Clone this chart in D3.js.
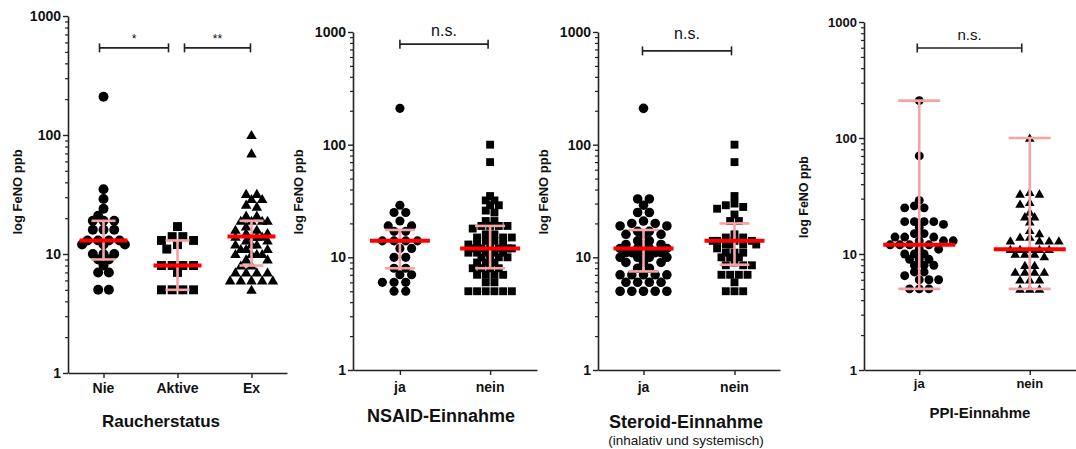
<!DOCTYPE html>
<html>
<head>
<meta charset="utf-8">
<script src="https://cdn.jsdelivr.net/npm/d3@7"></script>
<style>
  body { margin: 0; background: #fff; }
  svg text { font-family: "Liberation Sans", Arial, sans-serif; fill: #111; }
</style>
</head>
<body>
<svg id="chart" width="1076" height="449"></svg>
<script>
// ---- data (FeNO ppb) ----
const raucherCats = ["Nie", "Aktive", "Ex"];
const raucherNie = [210, 35, 29, 24, 21, 19, 19, 19, 16, 16, 16, 13, 13, 13, 13, 12, 12, 12, 10, 10, 10, 9, 9, 8, 7, 7, 5, 5];
const raucherAktive = [17, 14, 14, 13, 13, 12, 11, 8, 8, 8, 8, 7, 5, 5, 5, 5];
const raucherEx = [100, 70, 32, 32, 29, 29, 26, 25, 21, 21, 19, 19, 19, 19, 17, 16, 16, 15, 15, 14, 14, 14, 14, 13, 13,
  12, 12, 12, 11, 11, 11, 10, 10, 10, 10, 9, 9, 8, 8, 7, 7, 7, 7, 6, 6, 6, 6, 6, 5];
const raucherMedian = [13, 8, 14];
const raucherLow = [9, 5, 8];
const raucherHigh = [19, 13, 19];

const jaNein = ["ja", "nein"];
const nsaidJa = [210, 29, 25, 25, 21, 19, 19, 17, 17, 14, 14, 14, 14, 12, 12, 10, 10, 8, 8, 7, 7, 6, 6, 6, 5, 5];
const nsaidNein = [100, 70, 35, 32, 32, 29, 29, 26, 25, 21, 21, 19, 19, 19, 19, 18, 16, 16, 15, 15, 15, 14, 14, 13, 13, 13,
  12, 12, 12, 12, 12, 12, 11, 11, 11, 11, 11, 10, 10, 10, 10, 9, 9, 9, 8, 8, 8, 8, 7, 7, 7, 7, 6, 6, 5, 5, 5, 5, 5, 5];
const nsaidMedian = [14, 12];
const nsaidLow = [8, 8];
const nsaidHigh = [17.5, 19];

const steroidJa = [210, 33, 33, 29, 25, 25, 21, 20, 20, 19, 19, 17, 17, 16, 16, 16, 14, 14, 13, 13, 13, 12, 12, 12, 12,
  11, 11, 11, 11, 11, 10, 10, 10, 10, 9, 9, 9, 8, 8, 7, 7, 7, 7, 7, 6, 6, 6, 6, 5, 5, 5, 5, 5];
const steroidNein = [100, 70, 35, 30, 29, 28, 27, 24, 21, 21, 16, 15, 15, 14, 14, 14, 14, 13, 13, 13, 13, 12, 11, 11, 11,
  10, 10, 10, 9, 8.5, 8.5, 8.5, 7, 7, 7, 7, 6, 5, 5, 5];
const steroidMedian = [12, 14];
const steroidLow = [7.5, 8.6];
const steroidHigh = [17.5, 20];

const ppiJa = [210, 70, 29, 26, 25, 25, 19, 19, 19, 19, 18, 17, 15, 15, 14, 14, 14, 13, 13, 13, 12, 12, 12, 12, 11, 11,
  10, 10, 10, 9, 9, 9, 8, 8, 8, 7, 7, 6.5, 6, 6, 6, 5, 5, 5];
const ppiNein = [100, 34, 33, 33, 28, 27, 23, 21, 21, 19, 16, 15, 14, 14, 13, 13, 13, 13, 11, 11, 11, 11, 11, 10, 10, 10,
  9.5, 8, 8, 7, 7, 7, 7, 6, 6, 6, 5, 5, 5];
const ppiMedian = [12, 11];

const yTicks = [1, 10, 100, 1000];

// ---- panel layout ----
const panels = [
  { cats: raucherCats, groups: [raucherNie, raucherAktive, raucherEx], shapes: ["circle", "square", "triangle"],
    median: raucherMedian, low: raucherLow, high: raucherHigh,
    x0: 68, x1: 287, pad: 0.48, top: 16, bottom: 373, step: [10.7, 10.7, 10.7], spread: [22, 18, 20], msize: [78, 80, 48],
    medHalf: 24, capHalf: 12, tickFont: 14, labelX: 22, labelY: 192, labelFont: 13,
    title: "Raucherstatus", titleX: 161, titleY: 427, titleFont: 17, catY: 393,
    sig: [{ a: 0, b: 1, da: -4, db: -9, v: 540, text: "*", font: 12, ty: 43 },
          { a: 1, b: 2, da: 7, db: -1, v: 540, text: "**", font: 12, ty: 43 }] },
  { cats: jaNein, groups: [nsaidJa, nsaidNein], shapes: ["circle", "square"],
    median: nsaidMedian, low: nsaidLow, high: nsaidHigh,
    x0: 353, x1: 537, pad: 0.52, top: 32, bottom: 370, step: [11.7, 8.7], spread: [24, 26], msize: [66, 62],
    medHalf: 30, capHalf: 15, tickFont: 14, labelX: 303, labelY: 192, labelFont: 13,
    title: "NSAID-Einnahme", titleX: 441, titleY: 422, titleFont: 18, catY: 392,
    sig: [{ a: 0, b: 1, da: 0, db: -2, v: 780, text: "n.s.", font: 16, ty: 36 }] },
  { cats: jaNein, groups: [steroidJa, steroidNein], shapes: ["circle", "square"],
    median: steroidMedian, low: steroidLow, high: steroidHigh,
    x0: 598, x1: 780, pad: 0.5, top: 32, bottom: 370, step: [11.7, 8.7], spread: [24, 26], msize: [72, 62],
    medHalf: 30, capHalf: 15, tickFont: 14, labelX: 548, labelY: 192, labelFont: 13,
    title: "Steroid-Einnahme", sub: "(inhalativ und systemisch)", titleX: 686, titleY: 428, titleFont: 18, catY: 392,
    sig: [{ a: 0, b: 1, da: -1, db: -3, v: 680, text: "n.s.", font: 16, ty: 39 }] },
  { cats: jaNein, groups: [ppiJa, ppiNein], shapes: ["circle", "triangle"],
    median: ppiMedian, low: null, high: null,
    x0: 864, x1: 1085, pad: 0.5, top: 22, bottom: 370, step: [9.7, 9.7], spread: [34, 30], msize: [62, 40],
    medHalf: 36, capHalf: 21, tickFont: 13, labelX: 808, labelY: 197, labelFont: 12.5,
    title: "PPI-Einnahme", titleX: 980, titleY: 418, titleFont: 15, catY: 388,
    sig: [{ a: 0, b: 1, da: -2, db: -8, v: 597, text: "n.s.", font: 15, ty: 40 }] }
];

const svg = d3.select("#chart");
const symbolType = { circle: d3.symbolCircle, square: d3.symbolSquare, triangle: d3.symbolTriangle };

// scatter-dot layout: equal values in a centred row, otherwise dodge in half steps
// (never wider than maxHalf; when crowded take the least overlapping slot)
function swarm(values, y, W, maxHalf) {
  const T = W * 0.68, placed = [];
  const gap = (ox, oy) => d3.min(placed, p => Math.hypot(p.dx - ox, p.dy - oy)) ?? Infinity;
  let flip = 1;
  const byVal = d3.groups(values.slice().sort((a, b) => b - a), d => d);
  for (const [v, arr] of byVal) {
    const yy = y(v), n = arr.length;
    const row = d3.range(n).map(i => (i - (n - 1) / 2) * W);
    if (row.every(o => gap(o, yy) >= T)) {
      row.forEach(o => placed.push({ v, dx: o, dy: yy }));
      continue;
    }
    arr.forEach(() => {
      const cands = [0];
      for (let k = 1; k * W / 2 <= maxHalf; k++) cands.push(-k * W / 2 * flip, k * W / 2 * flip);
      let best = cands.find(o => gap(o, yy) >= T);
      if (best === undefined) best = cands[d3.maxIndex(cands, o => gap(o, yy))];
      placed.push({ v, dx: best, dy: yy });
      flip = -flip;
    });
  }
  return placed;
}

panels.forEach(p => {
  const g = svg.append("g");
  const y = d3.scaleLog().domain([1, 1000]).range([p.bottom, p.top]);
  const x = d3.scalePoint().domain(p.cats).range([p.x0, p.x1]).padding(p.pad);

  // minor log ticks
  const minor = [];
  [1, 10, 100].forEach(d => d3.range(2, 10).forEach(k => minor.push(d * k)));
  g.append("g")
    .attr("transform", `translate(${p.x0},0)`)
    .call(d3.axisLeft(y).tickValues(minor).tickSize(3).tickFormat(""))
    .call(a => a.select(".domain").remove())
    .call(a => a.selectAll("line").attr("stroke", "#222").attr("stroke-width", 1.2));

  g.append("g")
    .attr("transform", `translate(${p.x0},0)`)
    .call(d3.axisLeft(y).tickValues(yTicks).tickFormat(d3.format("d")).tickSize(5).tickSizeOuter(0).tickPadding(2))
    .call(a => a.select(".domain").attr("stroke", "#222").attr("stroke-width", 1.6))
    .call(a => a.selectAll("line").attr("stroke", "#222").attr("stroke-width", 1.4))
    .call(a => a.selectAll("text").attr("font-size", p.tickFont).attr("font-weight", "bold").attr("fill", "#111"));

  g.append("g")
    .attr("transform", `translate(0,${p.bottom})`)
    .call(d3.axisBottom(x).tickSize(5).tickSizeOuter(0).tickFormat(""))
    .call(a => a.select(".domain").attr("stroke", "#222").attr("stroke-width", 1.6))
    .call(a => a.selectAll("line").attr("stroke", "#222").attr("stroke-width", 1.4));

  g.selectAll(".cat").data(p.cats).join("text")
    .attr("x", d => x(d)).attr("y", p.catY)
    .attr("text-anchor", "middle").attr("font-size", p.tickFont).attr("font-weight", "bold")
    .text(d => d);

  // axis label + title
  g.append("text")
    .attr("transform", `translate(${p.labelX},${p.labelY}) rotate(-90)`)
    .attr("text-anchor", "middle").attr("font-size", p.labelFont).attr("font-weight", "bold")
    .text("log FeNO ppb");
  g.append("text")
    .attr("x", p.titleX).attr("y", p.titleY)
    .attr("text-anchor", "middle").attr("font-size", p.titleFont).attr("font-weight", "bold")
    .text(p.title);
  if (p.sub) {
    g.append("text")
      .attr("x", p.titleX).attr("y", p.titleY + 17)
      .attr("text-anchor", "middle").attr("font-size", 13.5)
      .text(p.sub);
  }

  // points
  p.groups.forEach((vals, i) => {
    const pts = swarm(vals, y, p.step[i], p.spread[i]);
    const sym = d3.symbol().type(symbolType[p.shapes[i]]).size(p.msize[i]);
    g.append("g").selectAll("path").data(pts).join("path")
      .attr("transform", d => `translate(${x(p.cats[i]) + d.dx},${d.dy + (p.shapes[i] === "triangle" ? 1 : 0)})`)
      .attr("d", sym)
      .attr("fill", "#000");
  });

  // error bars (IQR, or full range when not given) + median
  p.cats.forEach((c, i) => {
    const lo = p.low ? p.low[i] : d3.min(p.groups[i]);
    const hi = p.high ? p.high[i] : d3.max(p.groups[i]);
    const cx = x(c);
    const eb = g.append("g").attr("stroke", "#f5a3a3").attr("stroke-width", 2.6);
    eb.append("line").attr("x1", cx).attr("x2", cx).attr("y1", y(lo)).attr("y2", y(hi));
    eb.append("line").attr("x1", cx - p.capHalf).attr("x2", cx + p.capHalf).attr("y1", y(lo)).attr("y2", y(lo));
    eb.append("line").attr("x1", cx - p.capHalf).attr("x2", cx + p.capHalf).attr("y1", y(hi)).attr("y2", y(hi));
    g.append("line")
      .attr("x1", cx - p.medHalf).attr("x2", cx + p.medHalf)
      .attr("y1", y(p.median[i])).attr("y2", y(p.median[i]))
      .attr("stroke", "#ff0000").attr("stroke-width", 4);
  });

  // significance brackets
  p.sig.forEach(s => {
    const xa = x(p.cats[s.a]) + s.da, xb = x(p.cats[s.b]) + s.db, yy = y(s.v);
    const br = g.append("g").attr("stroke", "#222").attr("stroke-width", 1.6);
    br.append("line").attr("x1", xa).attr("x2", xb).attr("y1", yy).attr("y2", yy);
    br.append("line").attr("x1", xa).attr("x2", xa).attr("y1", yy - 4.5).attr("y2", yy + 4.5);
    br.append("line").attr("x1", xb).attr("x2", xb).attr("y1", yy - 4.5).attr("y2", yy + 4.5);
    g.append("text")
      .attr("x", (xa + xb) / 2).attr("y", s.ty)
      .attr("text-anchor", "middle").attr("font-size", s.font)
      .text(s.text);
  });
});
</script>
</body>
</html>
